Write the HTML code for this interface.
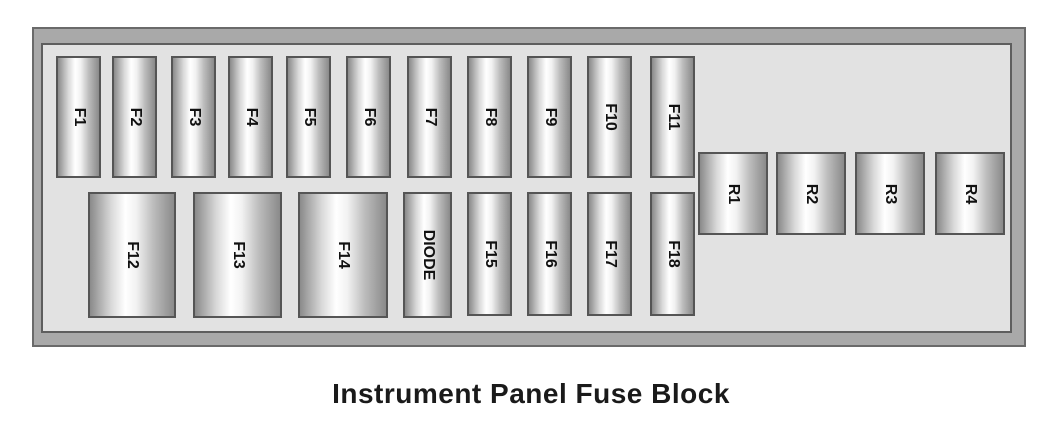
<!DOCTYPE html>
<html><head><style>
body{margin:0;width:1062px;height:421px;background:#fff;position:relative;overflow:hidden;font-family:"Liberation Sans",sans-serif}
.outer{position:absolute;left:32px;top:27px;width:994px;height:320px;background:#a9a9a9;border:2px solid #6a6a6a;box-sizing:border-box}
.inner{position:absolute;left:41px;top:43px;width:971px;height:290px;background:#e2e2e2;border:2px solid #5e5e5e;box-sizing:border-box}
.f{position:absolute;box-sizing:border-box;border:2px solid #555;background:linear-gradient(to right,#8a8a8a 0%,#d8d8d8 25%,#fff 42%,#f2f2f2 55%,#bdbdbd 75%,#8a8a8a 100%)}
.f span{position:absolute;left:50%;top:50%;transform:translate(-50%,-50%) rotate(90deg);font-size:16px;font-weight:bold;color:#111;white-space:nowrap}
.t{position:absolute;left:0;width:1062px;top:378px;text-align:center;font-size:28px;letter-spacing:0.5px;font-weight:bold;color:#1a1a1a}
</style></head><body>
<div class="outer"></div>
<div class="inner"></div>
<div class="f" style="left:56px;top:56px;width:45px;height:122px"><span>F1</span></div>
<div class="f" style="left:112px;top:56px;width:45px;height:122px"><span>F2</span></div>
<div class="f" style="left:171px;top:56px;width:45px;height:122px"><span>F3</span></div>
<div class="f" style="left:228px;top:56px;width:45px;height:122px"><span>F4</span></div>
<div class="f" style="left:286px;top:56px;width:45px;height:122px"><span>F5</span></div>
<div class="f" style="left:346px;top:56px;width:45px;height:122px"><span>F6</span></div>
<div class="f" style="left:407px;top:56px;width:45px;height:122px"><span>F7</span></div>
<div class="f" style="left:467px;top:56px;width:45px;height:122px"><span>F8</span></div>
<div class="f" style="left:527px;top:56px;width:45px;height:122px"><span>F9</span></div>
<div class="f" style="left:587px;top:56px;width:45px;height:122px"><span>F10</span></div>
<div class="f" style="left:650px;top:56px;width:45px;height:122px"><span>F11</span></div>
<div class="f" style="left:88px;top:192px;width:88px;height:126px"><span>F12</span></div>
<div class="f" style="left:193px;top:192px;width:89px;height:126px"><span>F13</span></div>
<div class="f" style="left:298px;top:192px;width:90px;height:126px"><span>F14</span></div>
<div class="f" style="left:403px;top:192px;width:49px;height:126px"><span>DIODE</span></div>
<div class="f" style="left:467px;top:192px;width:45px;height:124px"><span>F15</span></div>
<div class="f" style="left:527px;top:192px;width:45px;height:124px"><span>F16</span></div>
<div class="f" style="left:587px;top:192px;width:45px;height:124px"><span>F17</span></div>
<div class="f" style="left:650px;top:192px;width:45px;height:124px"><span>F18</span></div>
<div class="f" style="left:698px;top:152px;width:70px;height:83px"><span>R1</span></div>
<div class="f" style="left:776px;top:152px;width:70px;height:83px"><span>R2</span></div>
<div class="f" style="left:855px;top:152px;width:70px;height:83px"><span>R3</span></div>
<div class="f" style="left:935px;top:152px;width:70px;height:83px"><span>R4</span></div>
<div class="t">Instrument Panel Fuse Block</div>
</body></html>
